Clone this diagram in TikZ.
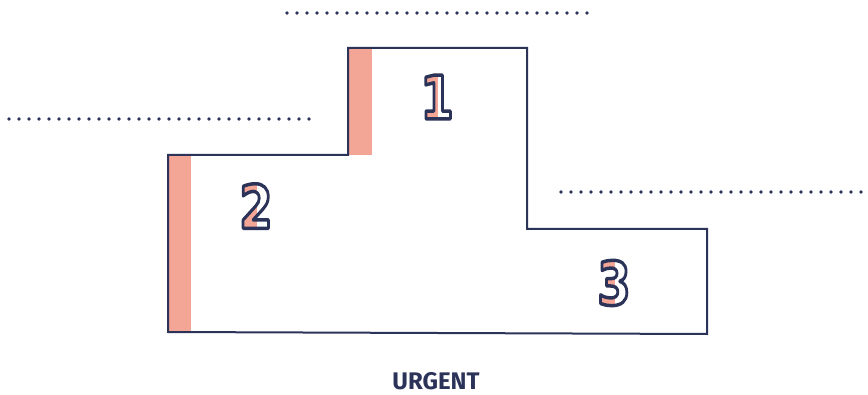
\documentclass[tikz,border=0pt]{standalone}
\usepackage{fontspec}
\newfontfamily\digitfont{DejaVu Sans}
\newfontfamily\labelfont{Fira Sans}
\definecolor{navyline}{RGB}{43, 51, 88}
\definecolor{pinkbar}{RGB}{243, 165, 150}
\usetikzlibrary{calc}

% stroked glyph (navy outline, no fill)
\newcommand{\strokeglyph}[1]{%
  \special{pdf:literal direct 0.169 0.2 0.345 RG 1 Tr 2.6 w 1 j}#1%
  \special{pdf:literal direct 0 Tr}}

% outlined digit, left half filled
\newcommand{\halfdigit}[3]{%
  \begin{scope}
    \clip ($(#2)+(-40,-40)$) rectangle ($(#2)+(0,40)$);
    \node[digit, text=pinkbar] at (#2) {#3};
  \end{scope}
  \node[digit] (#1) at (#2) {\strokeglyph{#3}};
}

\begin{document}
\begin{tikzpicture}[
  x=0.75pt, y=-0.75pt,
  outline/.style={draw=navyline, line width=1.5pt, line join=miter},
  bar/.style={fill=pinkbar},
  dots/.style={navyline, line width=2.8pt, line cap=round,
               dash pattern=on 0pt off 7.5pt},
  digit/.style={font=\digitfont\bfseries\fontsize{45}{45}\selectfont,
                inner sep=0pt, xscale=0.8},
  caption/.style={font=\labelfont\bfseries\fontsize{18}{18}\selectfont,
                  text=navyline}
]
  \useasboundingbox (0,0) rectangle (868,395);
  % dotted levels
  \draw[dots] (287,13) -- (597,13);
  \draw[dots] (9,119) -- (318,119);
  \draw[dots] (561,192) -- (868,192);
  % podium
  \fill[bar] (168,155) rectangle (191,332);
  \fill[bar] (348,48) rectangle (372,155);
  \draw[outline] (168,155) -- (348,155) -- (348,48) -- (527,48)
    -- (527,229) -- (707,229) -- (707,334) -- (168,332) -- cycle;
  % places
  \halfdigit{one}{437,97}{1}
  \halfdigit{two}{256,206}{2}
  \halfdigit{three}{614,283}{3}
  \node[caption] (urgent) at (436,381) {URGENT};
\end{tikzpicture}
\end{document}
